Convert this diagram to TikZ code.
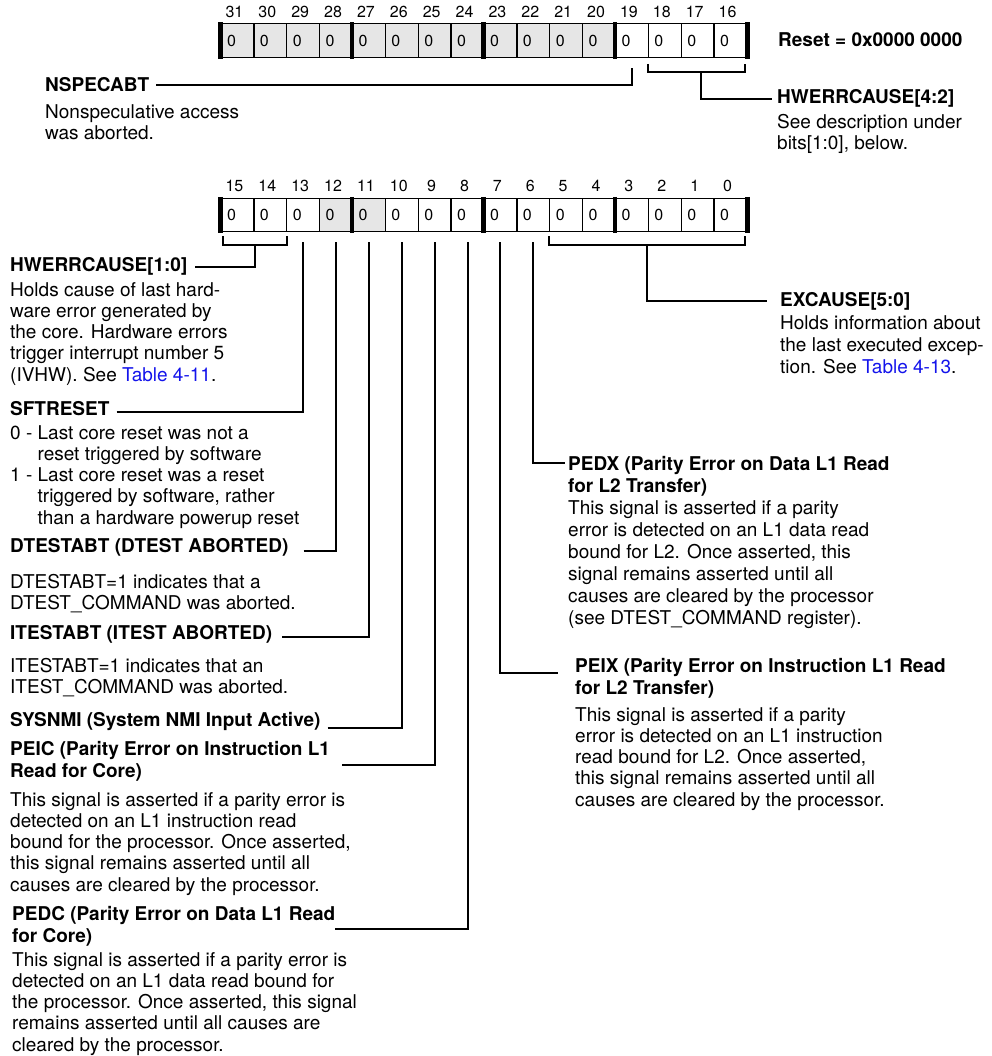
\documentclass[tikz,border=0pt]{standalone}
\usepackage{fontspec}
\setmainfont{TeX Gyre Heros}
\usepackage{xcolor}
\usetikzlibrary{positioning,calc}
\definecolor{bitgray}{RGB}{230,230,230}
\definecolor{linkblue}{RGB}{20,20,235}
\tikzset{
  bitcell/.style={draw=black, line width=1.4pt, minimum width=32.875pt, minimum height=33.5pt, inner xsep=6pt, inner ysep=0pt, text width=20.875pt, align=left, font=\fontsize{16}{16}\selectfont},
  bitno/.style={inner sep=0pt, font=\fontsize{16}{16}\selectfont},
  fldbar/.style={line width=4.5pt},
  conn/.style={line width=2pt},
  fldttl/.style={anchor=base west, inner sep=0pt, align=left, font=\bfseries\fontsize{19}{22}\selectfont},
  fldttlm/.style={fldttl, anchor=north west},
  flddesc/.style={anchor=north west, inner sep=0pt, align=left, font=\fontsize{19}{21.25}\selectfont},
  flddescw/.style={flddesc, font=\fontsize{19}{22}\selectfont}
}

\begin{document}
\begin{tikzpicture}[x=1pt, y=-1pt]
\useasboundingbox (0,0) rectangle (991,1056);

% register bits 31..16
\foreach \b [count=\i from 0] in {31,30,...,16} {
  \pgfmathsetmacro{\cx}{237.4375+32.875*\i}
  \ifnum\b>19 \def\cf{bitgray}\else \def\cf{white}\fi
  \node[bitcell, fill=\cf] (t\b) at (\cx,40.5) {0};
  \node[bitno, above=5.5pt of t\b, xshift=-3pt] (n\b) {\b};
}
\foreach \c in {t31,t27,t23,t19}
  \draw[fldbar] ([yshift=0.7pt]\c.north west) -- ([yshift=-0.7pt]\c.south west);
\draw[fldbar] ([yshift=0.7pt]t16.north east) -- ([yshift=-0.7pt]t16.south east);
\node[fldttl] (rst) at (778,47) {Reset = 0x0000 0000};

% register bits 15..0
\foreach \b [count=\i from 0] in {15,14,...,0} {
  \pgfmathsetmacro{\cx}{237.4375+32.875*\i}
  \ifnum\b=12 \def\cf{bitgray}\else\ifnum\b=11 \def\cf{bitgray}\else \def\cf{white}\fi\fi
  \node[bitcell, fill=\cf] (b\b) at (\cx,215) {0};
  \node[bitno, above=5.5pt of b\b, xshift=-3pt] (m\b) {\b};
}
\foreach \c in {b15,b11,b7,b3}
  \draw[fldbar] ([yshift=0.7pt]\c.north west) -- ([yshift=-0.7pt]\c.south west);
\draw[fldbar] ([yshift=0.7pt]b0.north east) -- ([yshift=-0.7pt]b0.south east);

% field descriptions
\node[fldttl] (nspec) at (45,92) {NSPECABT};
\node[flddesc] (nspec-d) at (45,103) {\strut Nonspeculative access\\was aborted.};

\node[fldttl] (hw42) at (777,104) {HWERRCAUSE[4:2]};
\node[flddesc] (hw42-d) at (777,113) {\strut See description under\\bits[1:0], below.};

\node[fldttl] (hw10) at (10,272) {HWERRCAUSE[1:0]};
\node[flddesc] (hw10-d) at (10,281) {\strut Holds cause of last hard-\\ware error generated by\\the core. Hardware errors\\trigger interrupt number 5\\(IVHW). See \textcolor{linkblue}{Table 4-11}.};

\node[fldttl] (exc) at (780,306) {EXCAUSE[5:0]};
\node[flddescw] (exc-d) at (780,314) {\strut Holds information about\\the last executed excep-\\tion. See \textcolor{linkblue}{Table 4-13}.};

\node[fldttl] (sft) at (10,415) {SFTRESET};
\node[flddesc] (sft-d) at (10,424) {\strut 0 - Last core reset was not a\\\phantom{0 - }reset triggered by software\\1 - Last core reset was a reset\\\phantom{1 - }triggered by software, rather\\\phantom{1 - }than a hardware powerup reset};

\node[fldttlm] (pedx) at (568,454.6) {\strut PEDX (Parity Error on Data L1 Read\\for L2 Transfer)};
\node[flddescw] (pedx-d) at (568,499) {\strut This signal is asserted if a parity\\error is detected on an L1 data read\\bound for L2. Once asserted, this\\signal remains asserted until all\\causes are cleared by the processor\\(see DTEST\_COMMAND register).};

\node[fldttl] (dtst) at (10,552) {DTESTABT (DTEST ABORTED)};
\node[flddesc] (dtst-d) at (10,573) {\strut DTESTABT=1 indicates that a\\DTEST\_COMMAND was aborted.};

\node[fldttl] (itst) at (10,639) {ITESTABT (ITEST ABORTED)};
\node[flddesc] (itst-d) at (10,657) {\strut ITESTABT=1 indicates that an\\ITEST\_COMMAND was aborted.};

\node[fldttlm] (peix) at (575,656.6) {\strut PEIX (Parity Error on Instruction L1 Read\\for L2 Transfer)};
\node[flddesc] (peix-d) at (575,706) {\strut This signal is asserted if a parity\\error is detected on an L1 instruction\\read bound for L2. Once asserted,\\this signal remains asserted until all\\causes are cleared by the processor.};

\node[fldttl] (snmi) at (10,726) {SYSNMI (System NMI Input Active)};

\node[fldttlm] (peic) at (10,739.6) {\strut PEIC (Parity Error on Instruction L1\\Read for Core)};
\node[flddesc] (peic-d) at (10,791) {\strut This signal is asserted if a parity error is\\detected on an L1 instruction read\\bound for the processor. Once asserted,\\this signal remains asserted until all\\causes are cleared by the processor.};

\node[fldttlm] (pedc) at (12,904.6) {\strut PEDC (Parity Error on Data L1 Read\\for Core)};
\node[flddesc] (pedc-d) at (12,951) {\strut This signal is asserted if a parity error is\\detected on an L1 data read bound for\\the processor. Once asserted, this signal\\remains asserted until all causes are\\cleared by the processor.};

% brackets
\draw[conn] ([yshift=-6pt]t18.south west) -- ++(0,8) -| ([xshift=-3pt,yshift=-6pt]t16.south east);
\coordinate (hw42-m) at ($([yshift=-14pt]t18.south west)!0.55!([xshift=-3pt,yshift=-14pt]t16.south east)$);
\draw[conn] ([xshift=3pt,yshift=-4pt]b15.south west) -- ++(0,9) -| ([yshift=-4pt]b14.south east);
\coordinate (hw10-m) at ($([xshift=3pt,yshift=-13pt]b15.south west)!0.5!([yshift=-13pt]b14.south east)$);
\draw[conn] ([yshift=-4pt]b5.south west) -- ++(0,9) -| ([xshift=-3pt,yshift=-4pt]b0.south east);
\coordinate (exc-m) at ($([yshift=-13pt]b5.south west)!0.5!([xshift=-3pt,yshift=-13pt]b0.south east)$);

% connectors
\draw[conn, shorten <=7pt] (nspec.east) -| ([yshift=-10pt]t19.south);
\draw[conn, shorten >=5pt] (hw42-m) |- (hw42.west);
\draw[conn, shorten >=7pt] (hw10-m) |- (hw10.east);
\draw[conn, shorten >=13pt] (exc-m) |- (exc.west);
\draw[conn, shorten <=7pt] ([yshift=-4pt]sft.east) -| ([yshift=-10pt]b13.south);
\draw[conn, shorten <=15pt] ([yshift=-4pt]dtst.east) -| ([yshift=-10pt]b12.south);
\draw[conn, shorten <=10pt] ([yshift=-3pt]itst.east) -| ([yshift=-10pt]b11.south);
\draw[conn, shorten <=7pt] ([yshift=-7pt]snmi.east) -| ([yshift=-10pt]b10.south);
\draw[conn, shorten <=12pt] ([yshift=-5pt]peic.east) -| ([yshift=-10pt]b9.south);
\draw[conn] ([yshift=-4pt]pedc.east) -| ([yshift=-10pt]b8.south);
\draw[conn, shorten >=3pt] ([yshift=-10pt]b6.south) |- ([yshift=-8.4pt]pedx.north west);
\draw[conn, shorten >=17pt] ([yshift=-10pt]b7.south) |- ([yshift=-16.4pt]peix.north west);
\end{tikzpicture}
\end{document}
